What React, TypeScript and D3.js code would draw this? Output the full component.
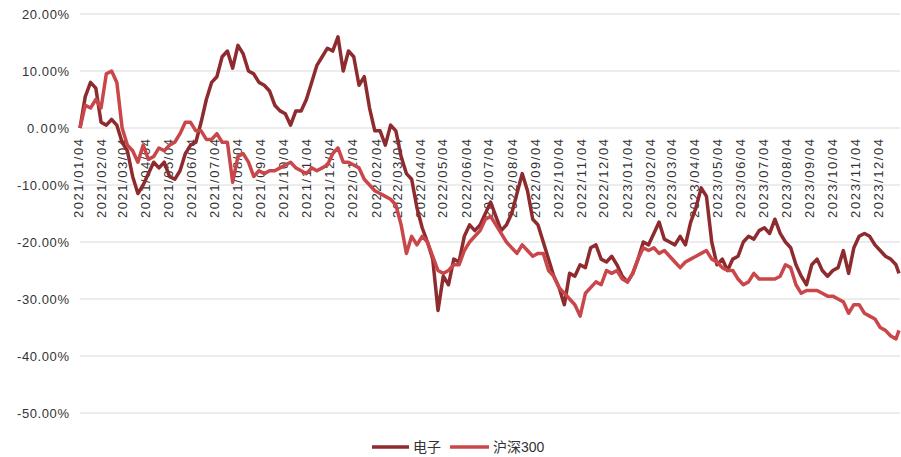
import React from "react";
import * as d3 from "d3";

const seriesNames = ["电子", "沪深300"];
const startDate = new Date(2021, 0, 4);
const endDate = new Date(2023, 11, 29);

// weekly readings (%), starting 2021/01/04, last point 2023/12/29
const electronics = [
  0, 5.5, 8, 7, 1, 0.5, 1.5, 0.5, -2.5, -4,
  -8.5, -11.5, -10, -8, -6, -7, -6, -8.5, -9, -7.5,
  -4.5, -3, -2.5, 1, 5, 8, 9, 12.5, 13.5, 10.5,
  14.5, 13, 10, 9.5, 8, 7.5, 6.5, 4, 3, 2.5,
  0.5, 3, 3, 5, 8, 11, 12.5, 14, 13.5, 16,
  10, 13.5, 12.5, 7.5, 9, 3.5, -0.5, -0.5, -3, 0.5,
  -0.5, -5, -8, -9, -14, -17.5, -20, -23, -32, -26,
  -27.5, -23, -23.5, -19, -17, -18, -17, -15, -13, -15.5,
  -18, -17, -15, -11.5, -8, -11, -16, -17, -20, -23,
  -26, -28, -31, -25.5, -26, -24, -24.5, -21, -20.5, -23,
  -23.5, -22.5, -24, -26, -27, -25.5, -23, -20, -20.5, -18.5,
  -16.5, -19.5, -20, -20.5, -19, -20.5, -16.5, -14, -10.5, -12,
  -20, -24, -23, -25, -23, -22.5, -20, -19, -19.5, -18,
  -17.5, -18.5, -16, -18.5, -20, -21, -24, -26, -27.5, -24,
  -23, -25, -26, -25, -24.5, -21.5, -25.5, -21, -19, -18.5,
  -19, -20.5, -21.5, -22.5, -23, -24, -25.5,
];

const hs300 = [
  0, 4, 3.5, 5, 3.5, 9.5, 10, 8, 0, -3,
  -4, -6, -3, -5.5, -5, -3.5, -4, -3, -2.5, -1,
  1, 1, -0.5, -0.5, -2, -2, -1, -2.5, -2.5, -9.5,
  -5, -4.5, -6, -8.5, -7.5, -8, -7.5, -7.5, -7, -6.5,
  -6, -7, -7.5, -8, -7, -7.5, -7, -6.5, -4.5, -3.5,
  -6, -6, -6.5, -7, -9, -10, -11, -11.5, -12, -12.5,
  -13.5, -17, -22, -19, -20.5, -19, -20, -22.5, -25, -25.5,
  -25, -24, -24, -21.5, -20, -19, -18, -16, -15.5, -17,
  -18.5, -20, -21, -22, -20.5, -21.5, -22.5, -22, -22, -25,
  -26, -28, -29, -30, -31, -33, -29, -28, -27, -27.5,
  -25, -25.5, -25, -26.5, -27, -25.5, -23, -21, -21.5, -21,
  -22, -21.5, -22.5, -23.5, -24.5, -23.5, -23, -22.5, -22, -21.5,
  -23, -23.5, -24.5, -25, -25, -26.5, -27.5, -27, -25.5, -26.5,
  -26.5, -26.5, -26.5, -26, -24, -24.5, -27.5, -29, -28.5, -28.5,
  -28.5, -29, -29.5, -29.5, -30, -30.5, -32.5, -31, -31, -32.5,
  -33, -33.5, -35, -35.5, -36.5, -37, -35.5,
];

const yTicks = [20, 10, 0, -10, -20, -30, -40, -50];
const colors = ["#8e2b2e", "#c9474a"];

const W = 901;
const H = 457;
const FONT = "'Liberation Sans', Arial, 'Noto Sans CJK SC', sans-serif";

export default function App() {
  const x = d3.scaleTime().domain([startDate, endDate]).range([80, 899]);
  const y = d3.scaleLinear().domain([-50, 20]).range([413, 14]);

  const dateAt = (i: number) => {
    const d = d3.timeDay.offset(startDate, 7 * i);
    return d > endDate ? endDate : d;
  };

  const line = d3
    .line<number>()
    .x((_, i) => x(dateAt(i)))
    .y((v) => y(v));

  const months = d3.timeMonth
    .range(new Date(2021, 0, 1), new Date(2024, 0, 1))
    .map((m) => new Date(m.getFullYear(), m.getMonth(), 4));
  const fmt = d3.timeFormat("%Y/%m/%d");
  const pct = (v: number) => `${v.toFixed(2)}%`;

  return (
    <svg
      width={W}
      height={H}
      style={{ position: "absolute", left: 0, top: 0, background: "#fff" }}
      fontFamily={FONT}
    >
      {yTicks.map((t) => (
        <g key={t}>
          <line x1={80} x2={900} y1={y(t)} y2={y(t)} stroke="#d9d9d9" strokeWidth={1.2} />
          <text
            x={69}
            y={y(t)}
            dy="0.36em"
            textAnchor="end"
            fontSize={13}
            fill="#333"
            textLength={t < 0 ? 52 : t === 0 ? 42 : 47}
            lengthAdjust="spacing"
          >
            {pct(t)}
          </text>
        </g>
      ))}
      {months.map((m) => {
        const px = x(m) - 2;
        return (
          <text
            key={+m}
            transform={`translate(${px},139) rotate(-90)`}
            textAnchor="end"
            dy="0.36em"
            fontSize={13}
            fill="#333"
            textLength={79}
            lengthAdjust="spacing"
          >
            {fmt(m)}
          </text>
        );
      })}
      <path d={line(electronics) || ""} fill="none" stroke={colors[0]} strokeWidth={3.5} strokeLinejoin="round" />
      <path d={line(hs300) || ""} fill="none" stroke={colors[1]} strokeWidth={3.5} strokeLinejoin="round" />
      <g>
        <line x1={372} x2={409} y1={447} y2={447} stroke={colors[0]} strokeWidth={3.5} />
        <text x={413} y={452} fontSize={14} fill="#333">
          {seriesNames[0]}
        </text>
        <line x1={450} x2={489} y1={447} y2={447} stroke={colors[1]} strokeWidth={3.5} />
        <text x={493} y={452} fontSize={14} fill="#333">
          {seriesNames[1]}
        </text>
      </g>
    </svg>
  );
}
